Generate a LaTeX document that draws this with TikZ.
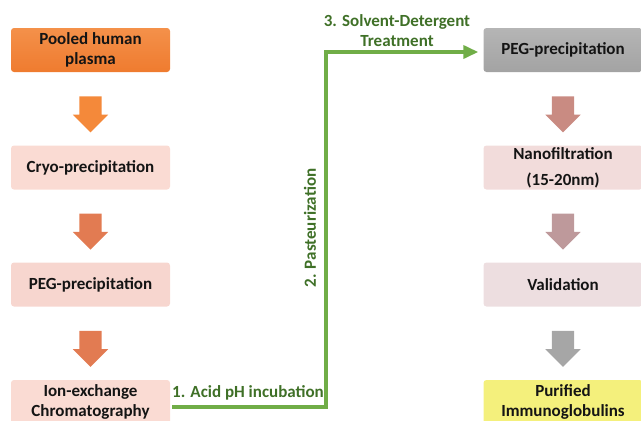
\documentclass[tikz,border=0pt]{standalone}
\usepackage{fontspec}
\setmainfont{Carlito}
\usetikzlibrary{shapes.arrows,arrows.meta}

\definecolor{plasmaorange}{HTML}{EF7B2F}
\definecolor{plasmalight}{HTML}{F4914A}
\definecolor{peachbox}{HTML}{FADBD3}
\definecolor{peachboxB}{HTML}{F7D6CF}
\definecolor{greybox}{HTML}{A3A3A3}
\definecolor{greyboxlight}{HTML}{B5B5B5}
\definecolor{rosebox}{HTML}{F2DCDB}
\definecolor{mauvebox}{HTML}{EDDEE0}
\definecolor{yellowbox}{HTML}{F4F07C}
\definecolor{arrorange}{HTML}{F4893A}
\definecolor{arrterra}{HTML}{E27B52}
\definecolor{arrbrown}{HTML}{C98B82}
\definecolor{arrmauve}{HTML}{BE999B}
\definecolor{arrgrey}{HTML}{A6A6A6}
\definecolor{pathgreen}{HTML}{70AD47}
\definecolor{labelgreen}{HTML}{3F7027}

\tikzset{
  stepbox/.style={rounded corners=3pt, minimum width=159pt, minimum height=44pt,
    inner sep=0pt, align=center, font=\bfseries, text=black!92},
  blockarrow/.style={single arrow, draw=none, rotate=-90, minimum height=36pt,
    minimum width=35pt, single arrow head extend=6.5pt, inner xsep=0pt, inner ysep=11pt},
  greenline/.style={draw=pathgreen, line width=3.6pt, -{Triangle[length=15pt,width=13pt]}},
  greentext/.style={font=\bfseries, text=labelgreen, align=center, inner sep=0pt},
}

\begin{document}
\begin{tikzpicture}[x=1pt, y=-1pt]
\fontsize{17}{20}\selectfont
\useasboundingbox (0,0) rectangle (641,421);
\clip (0,0) rectangle (641,421);

% left column
\node[stepbox, top color=plasmalight, bottom color=plasmaorange] (pool) at (90.5,50) {Pooled human\\plasma};
\node[stepbox, fill=peachbox] (cryo) at (90.5,167.5) {Cryo-precipitation};
\node[stepbox, fill=peachboxB] (pegL) at (90.5,284.5) {PEG-precipitation};
\node[stepbox, fill=peachbox] (ion) at (90.5,402) {Ion-exchange\\Chromatography};

% right column
\node[stepbox, top color=greyboxlight, bottom color=greybox] (pegR) at (563,50) {PEG-precipitation};
\node[stepbox, fill=rosebox] (nano) at (563,167.5) {Nanofiltration\\[6pt](15-20nm)};
\node[stepbox, fill=mauvebox] (valid) at (563,284.5) {Validation};
\node[stepbox, fill=yellowbox] (igs) at (563,402) {Purified\\Immunoglobulins};

% block arrows
\path (pool) -- (cryo) node[midway, blockarrow, fill=arrorange] (a1) {};
\path (cryo) -- (pegL) node[midway, blockarrow, fill=arrterra] (a2) {};
\path (pegL) -- (ion) node[midway, blockarrow, fill=arrterra] (a3) {};
\path (pegR) -- (nano) node[midway, blockarrow, fill=arrbrown] (b1) {};
\path (nano) -- (valid) node[midway, blockarrow, fill=arrmauve] (b2) {};
\path (valid) -- (igs) node[midway, blockarrow, fill=arrgrey] (b3) {};

% virus inactivation path
\coordinate (bend) at (326,52);
\draw[greenline] ([xshift=2pt,yshift=-5pt]ion.east) -| (bend) -- ([xshift=-5pt,yshift=-2pt]pegR.west);
\node[greentext] (acid) at (248,393) {1. Acid pH incubation};
\node[greentext, rotate=90] (past) at (310,228) {2. Pasteurization};
\node[greentext] (solv) at (397,31) {3. Solvent-Detergent\\Treatment};
\end{tikzpicture}
\end{document}
